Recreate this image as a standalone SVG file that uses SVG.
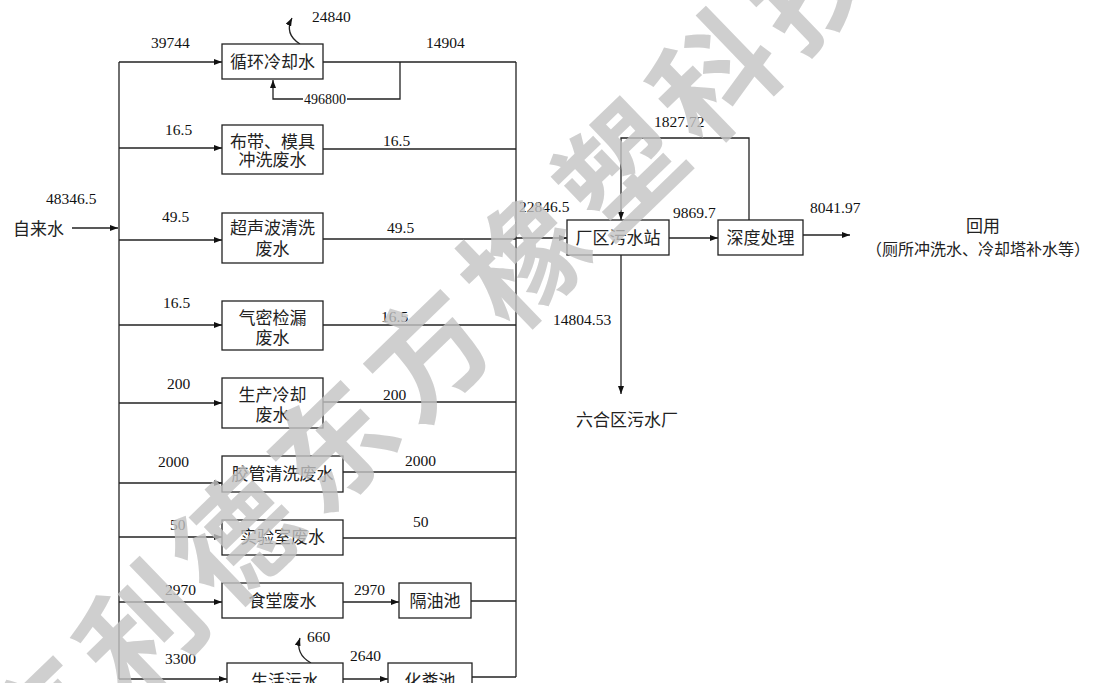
<svg xmlns="http://www.w3.org/2000/svg" width="1099" height="683" viewBox="0 0 1099 683">
<defs>
<style>
.box{fill:#fff;stroke:#222;stroke-width:1.3}
.ln{fill:none;stroke:#222;stroke-width:1.3}
.arr{marker-end:url(#ah)}
.n{font-family:"Liberation Serif","Noto Sans CJK SC",serif;font-size:15.5px;fill:#111}
.t{font-family:"Liberation Serif","Noto Sans CJK SC",serif;font-size:17px;fill:#222}
.c{text-anchor:middle}
.wm{font-family:"Noto Sans CJK SC",sans-serif;font-weight:bold;font-size:120px;fill:#c4c4c4;opacity:0.8;letter-spacing:13px}
</style>
<marker id="ah" markerWidth="8" markerHeight="6" refX="8" refY="3" orient="auto" markerUnits="userSpaceOnUse">
<path d="M0,0 L8,3 L0,6 z" fill="#111"/>
</marker>
</defs>
<rect width="1099" height="683" fill="#fff"/>

<g id="connectors">
<path class="ln" d="M119,62 V679"/>
<path class="ln" d="M516,62 V677"/>
<path class="ln arr" d="M72,228 H118"/>
<path class="ln arr" d="M119,62 H222"/>
<path class="ln" d="M323,62 H516"/>
<path class="ln arr" d="M400,62 V99 H347 M303,99 H273 V80"/>
<path class="ln arr" d="M300,44 Q284,34 292,18"/>
<path class="ln arr" d="M119,148 H222"/>
<path class="ln" d="M323,149 H516"/>
<path class="ln arr" d="M119,240 H222"/>
<path class="ln" d="M323,239 H516"/>
<path class="ln arr" d="M119,325 H222"/>
<path class="ln" d="M323,325 H516"/>
<path class="ln arr" d="M119,403 H222"/>
<path class="ln" d="M323,402 H516"/>
<path class="ln arr" d="M119,483 H222"/>
<path class="ln" d="M343,472 H516"/>
<path class="ln arr" d="M119,537 H222"/>
<path class="ln" d="M343,538 H516"/>
<path class="ln arr" d="M119,602 H222"/>
<path class="ln arr" d="M343,602 H399"/>
<path class="ln" d="M471,601 H516"/>
<path class="ln arr" d="M119,679 H227"/>
<path class="ln arr" d="M343,679 H388"/>
<path class="ln" d="M472,677 H516"/>
<path class="ln arr" d="M311,663 Q295,654 300,638"/>
<path class="ln arr" d="M516,238 H567"/>
<path class="ln arr" d="M669,238 H718"/>
<path class="ln arr" d="M749,220 V138 H621 V220"/>
<path class="ln arr" d="M803,235 H850"/>
<path class="ln arr" d="M621,255 V394"/>
</g>

<g id="node-cooling"><rect class="box" x="222" y="44" width="101" height="35"/><text class="t c" x="272.5" y="67.5">循环冷却水</text></g>
<g id="node-cloth"><rect class="box" x="222" y="125" width="101" height="49"/><text class="t c" x="272.5" y="147.5">布带、模具</text><text class="t c" x="272.5" y="166">冲洗废水</text></g>
<g id="node-ultrasonic"><rect class="box" x="222" y="213" width="101" height="50"/><text class="t c" x="272.5" y="234">超声波清洗</text><text class="t c" x="272.5" y="255">废水</text></g>
<g id="node-leak"><rect class="box" x="222" y="301" width="101" height="49"/><text class="t c" x="272.5" y="324">气密检漏</text><text class="t c" x="272.5" y="344">废水</text></g>
<g id="node-prodcool"><rect class="box" x="222" y="378" width="101" height="50"/><text class="t c" x="272.5" y="401">生产冷却</text><text class="t c" x="272.5" y="421">废水</text></g>
<g id="node-hose"><rect class="box" x="222" y="456" width="121" height="36"/><text class="t c" x="282.5" y="480">胶管清洗废水</text></g>
<g id="node-lab"><rect class="box" x="222" y="520" width="121" height="35"/><text class="t c" x="282.5" y="543">实验室废水</text></g>
<g id="node-canteen"><rect class="box" x="222" y="583" width="121" height="35"/><text class="t c" x="282.5" y="606.5">食堂废水</text></g>
<g id="node-grease"><rect class="box" x="399" y="583" width="72" height="35"/><text class="t c" x="435" y="606.5">隔油池</text></g>
<g id="node-domestic"><rect class="box" x="227" y="663" width="116" height="36"/><text class="t c" x="285" y="687">生活污水</text></g>
<g id="node-septic"><rect class="box" x="388" y="663" width="84" height="36"/><text class="t c" x="430" y="687">化粪池</text></g>
<g id="node-station"><rect class="box" x="567" y="220" width="102" height="35"/><text class="t c" x="618" y="243.5">厂区污水站</text></g>
<g id="node-advanced"><rect class="box" x="718" y="220" width="85" height="35"/><text class="t c" x="760.5" y="243.5">深度处理</text></g>
<g id="node-tap"><text class="t" x="13" y="235">自来水</text></g>
<g id="node-liuhe"><text class="t" x="576" y="426">六合区污水厂</text></g>
<g id="node-reuse"><text class="t c" x="983" y="232">回用</text><text class="t" x="866" y="255" style="font-size:16px">（厕所冲洗水、冷却塔补水等）</text></g>

<g id="labels">
<text class="n" x="46" y="204">48346.5</text>
<text class="n" x="151" y="48">39744</text>
<text class="n" x="312" y="22">24840</text>
<text class="n" x="426" y="48">14904</text>
<text class="n" x="304" y="104" style="font-size:14px">496800</text>
<text class="n" x="165" y="135">16.5</text>
<text class="n" x="383" y="146">16.5</text>
<text class="n" x="162" y="222">49.5</text>
<text class="n" x="387" y="233">49.5</text>
<text class="n" x="163" y="308">16.5</text>
<text class="n" x="381" y="322">16.5</text>
<text class="n" x="167" y="389">200</text>
<text class="n" x="383" y="400">200</text>
<text class="n" x="158" y="467">2000</text>
<text class="n" x="405" y="466">2000</text>
<text class="n" x="170" y="530">50</text>
<text class="n" x="413" y="527">50</text>
<text class="n" x="165" y="595">2970</text>
<text class="n" x="354" y="595">2970</text>
<text class="n" x="307" y="642">660</text>
<text class="n" x="165" y="664">3300</text>
<text class="n" x="350" y="661">2640</text>
<text class="n" x="519" y="212">22846.5</text>
<text class="n" x="673" y="218">9869.7</text>
<text class="n" x="654" y="127">1827.72</text>
<text class="n" x="810" y="213">8041.97</text>
<text class="n" x="553" y="325">14804.53</text>
</g>

<g id="watermark" transform="translate(140,630) rotate(-44)">
<text class="wm" x="-193" y="46">京利德东方橡塑科技</text>
</g>
</svg>
